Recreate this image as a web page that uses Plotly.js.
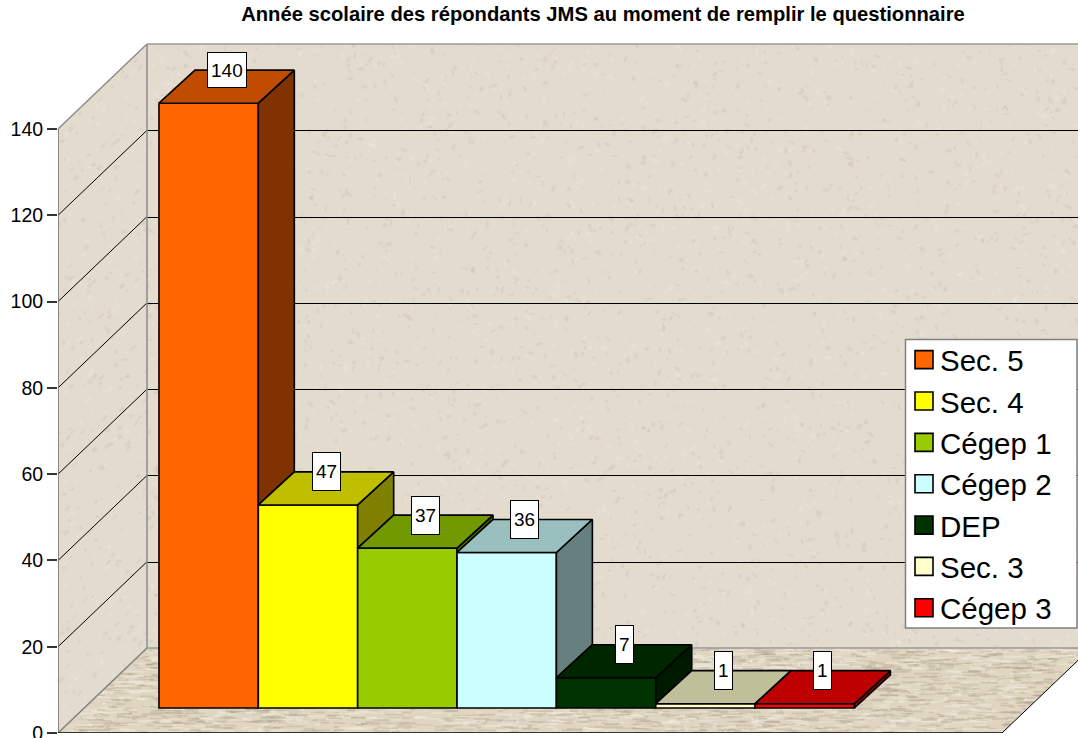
<!DOCTYPE html>
<html><head><meta charset="utf-8">
<script src="https://cdn.plot.ly/plotly-3.0.1.min.js"></script>
<style>
html,body{margin:0;padding:0;background:#fff}
#chart{width:1078px;height:738px}
.legend .legendpoints path{transform:translate(24px,0) scale(1.5);vector-effect:non-scaling-stroke}
</style></head><body><div id="chart"></div>
<script>
const categories=["Sec. 5","Sec. 4","Cégep 1","Cégep 2","DEP","Sec. 3","Cégep 3"];
const values=[140,47,37,36,7,1,1];
const frontColors=["#FF6600","#FFFF00","#99CC00","#CCFFFF","#003300","#FFFFCC","#FF0000"];
const topColors=["#BF4C00","#BFBF00","#739900","#99BFBF","#002600","#BFBF99","#BF0000"];
const sideColors=["#803300","#808000","#4D6600","#668080","#001A00","#80806A","#800000"];
const tickValues=[0,20,40,60,80,100,120,140];
const titleText="Année scolaire des répondants JMS au moment de remplir le questionnaire";

// pixel frame of the plot area
const L=58,R=1078,T=40,B=733,PW=R-L,PH=B-T;
const yScale=4.314, xUnit=99.35, originPx=208.65, barBase=708;
const X=p=>(p-originPx)/xUnit;
const Y=p=>(B-p)/yScale;
const barDX=36/xUnit, barDY=33/yScale;
const wallDX=89/xUnit, wallDY=85/yScale;
const x0=X(L), xB=X(L+89), xEnd=X(1002), xR=X(R);
const topV=140;

function texture(){
  const c=document.createElement('canvas');c.width=PW;c.height=PH;
  const g=c.getContext('2d');
  let s=12345;const rnd=()=>{s=(s*1664525+1013904223)%4294967296;return s/4294967296;};
  const poly=(pts)=>{g.beginPath();pts.forEach((p,i)=>i?g.lineTo(p[0]-L,p[1]-T):g.moveTo(p[0]-L,p[1]-T));g.closePath();};
  // back + side walls
  g.fillStyle='#E4DBCF';g.save();
  poly([[58,129],[147,44],[1078,44],[1078,648],[147,648],[58,733]]);g.fill();g.clip();
  for(let i=0;i<5200;i++){
    const x=rnd()*PW,y=rnd()*PH,d=rnd()>.45;
    g.fillStyle=d?'rgba(175,165,150,.16)':'rgba(245,240,232,.24)';
    g.beginPath();g.ellipse(x,y,1+rnd()*2.8,.7+rnd()*1.4,x<89?-.8:rnd()*3,0,6.3);g.fill();
  }
  g.restore();
  // floor
  g.save();poly([[147,648],[1078,648],[1078,660.5],[1002,733],[58,733]]);
  g.fillStyle='#DFD5C1';g.fill();g.clip();
  for(let i=0;i<3800;i++){
    const x=rnd()*PW,y=600+rnd()*95,d=rnd()>.45,w=4+rnd()*16;
    g.fillStyle=d?'rgba(165,152,125,.30)':'rgba(245,240,228,.42)';
    g.fillRect(x,y,w,1+rnd()*1.1);
  }
  g.restore();
  return c.toDataURL('image/png');
}

const line=(x1,y1,x2,y2,color,width)=>({type:'line',xref:'x',yref:'y',layer:'below',x0:x1,y0:y1,x1:x2,y1:y2,line:{color:color,width:width}});
const snap=v=>Y(Math.round(B-v*yScale)+0.5);
const shapes=[];
tickValues.slice(1,-1).forEach(v=>{
  shapes.push(line(x0,v,xB,v+wallDY,'#000',1));
  shapes.push(line(xB,snap(v+wallDY),xR,snap(v+wallDY),'#000',1));
});
shapes.push(line(x0,topV,xB,topV+wallDY,'#8c8c8c',1.5));
shapes.push(line(xB,topV+wallDY,xR,topV+wallDY,'#9a9a9a',1.5));
shapes.push(line(xB,wallDY,xB,topV+wallDY,'#8c8c8c',1.5));
shapes.push(line(xB,wallDY,xR,wallDY,'#9a9a9a',1.5));
shapes.push(line(x0,0,xB,wallDY,'#808080',1.5));
shapes.push(line(x0,0,x0,topV,'#6e6e6e',1.5));
shapes.push(line(x0,0,xEnd,0,'#000',1.5));
shapes.push(line(xEnd,0,xEnd+wallDX*(76/89),wallDY*(72.6/85),'#000',1));
// legend box
shapes.push({type:'rect',xref:'x',yref:'y',layer:'above',x0:X(905.5),x1:X(1077),y0:Y(628),y1:Y(339.5),fillcolor:'#fff',line:{color:'#808080',width:1.5}});

const traces=[];
categories.forEach((name,i)=>{
  traces.push({type:'bar',name:name,x:[i],y:[values[i]],width:1,xaxis:'x',yaxis:'y2',
    marker:{color:frontColors[i],line:{color:'#000',width:1.6}},hoverinfo:'name+y'});
});
const poly=(xs,ys,color)=>({type:'scatter',mode:'lines',x:xs,y:ys,fill:'toself',fillcolor:color,
  line:{color:'#000',width:1.6},xaxis:'x',yaxis:'y2',showlegend:false,hoverinfo:'skip'});
categories.forEach((name,i)=>{
  const v=values[i],next=i<values.length-1?values[i+1]:0,l=i-.5,r=i+.5;
  if(v>next) traces.push(poly([r,r+barDX,r+barDX,r,r],[next,next+barDY,v+barDY,v,next],sideColors[i]));
  traces.push(poly([l,r,r+barDX,l+barDX,l],[v,v,v+barDY,v+barDY,v],topColors[i]));
});

const annotations=categories.map((name,i)=>({
  xref:'x',yref:'y2',x:i+barDX/2,y:values[i]+barDY,text:String(values[i]),showarrow:false,
  xanchor:'center',yanchor:'middle',bgcolor:'#fff',bordercolor:'#000',borderwidth:1,borderpad:3,
  height:i===0?28:31,
  font:{family:'Liberation Sans, Arial, sans-serif',size:19,color:'#000'}
}));

const layout={
  width:1078,height:738,margin:{l:L,r:1078-R,t:T,b:738-B,pad:0},
  paper_bgcolor:'#fff',plot_bgcolor:'rgba(0,0,0,0)',autosize:false,barmode:'overlay',
  title:{text:'<b>'+titleText+'</b>',font:{family:'Liberation Sans, Arial, sans-serif',size:20.2,color:'#000'},
    x:603/1078,xanchor:'center',y:1-14/738,yanchor:'middle'},
  xaxis:{range:[x0,xR],visible:false,fixedrange:true},
  yaxis:{range:[0,PH/yScale],tickvals:tickValues,ticktext:tickValues.map(String),ticks:'outside',ticklen:10,tickwidth:1.5,tickcolor:'#333',
    ticklabeloverflow:'allow',showgrid:false,zeroline:false,showline:false,fixedrange:true,
    tickfont:{family:'Liberation Sans, Arial, sans-serif',size:19.5,color:'#000'}},
  yaxis2:{overlaying:'y',side:'left',range:[(B-barBase)/-4.32,(barBase-T)/4.32],visible:false,fixedrange:true},
  showlegend:true,
  legend:{x:(900-L)/PW,xanchor:'left',y:(B-334)/PH,yanchor:'top',bgcolor:'rgba(0,0,0,0)',borderwidth:0,itemwidth:30,
    font:{family:'Liberation Sans, Arial, sans-serif',size:29.5,color:'#000'},itemclick:false,itemdoubleclick:false},
  images:[{source:texture(),xref:'paper',yref:'paper',x:0,y:1,sizex:1,sizey:1,sizing:'stretch',layer:'below',xanchor:'left',yanchor:'top'}],
  shapes:shapes,annotations:annotations
};
Plotly.newPlot('chart',traces,layout,{displayModeBar:false});
</script></body></html>
